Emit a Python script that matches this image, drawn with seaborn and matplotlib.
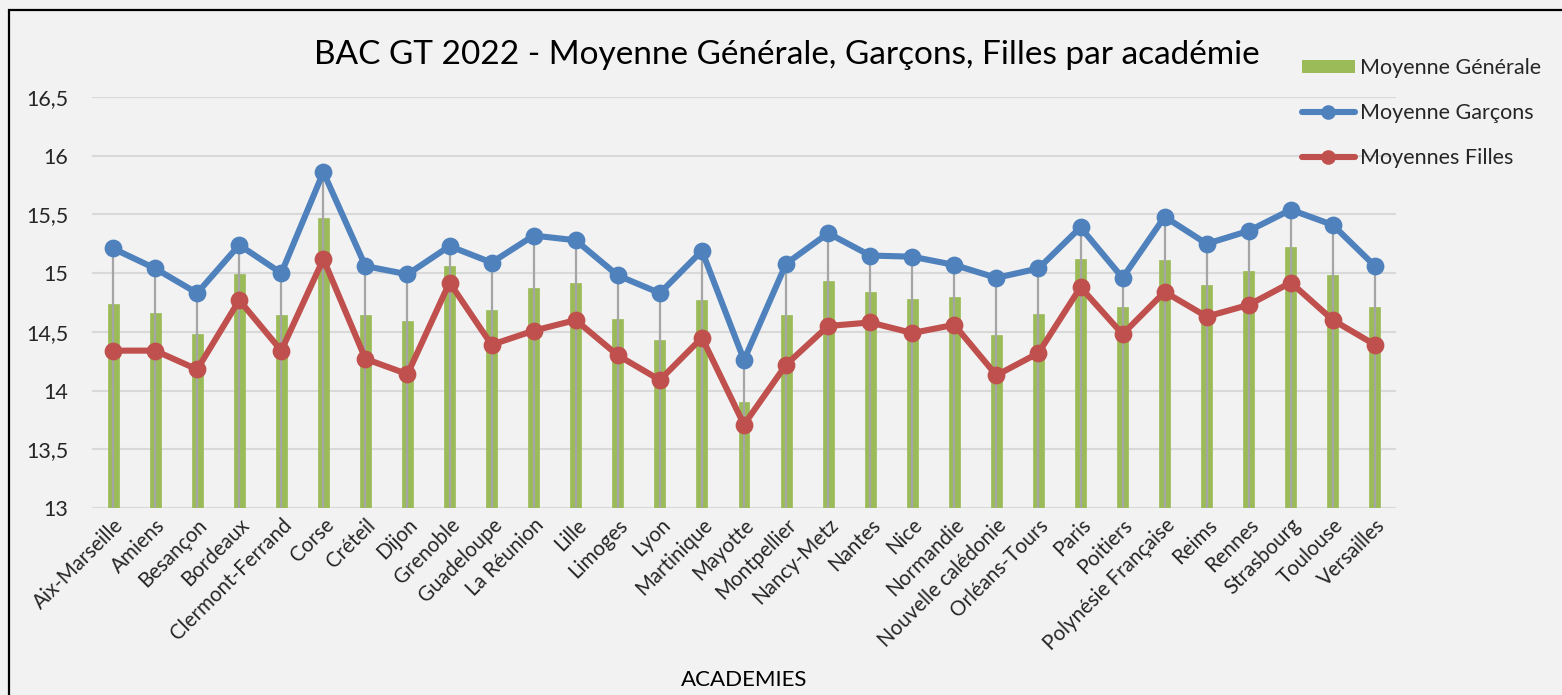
import matplotlib
matplotlib.use("Agg")
import matplotlib.pyplot as plt
import seaborn as sns
import numpy as np
import pandas as pd
from matplotlib.lines import Line2D
from matplotlib.patches import Patch, Rectangle
from matplotlib.ticker import FuncFormatter, MultipleLocator

academies = ["Aix-Marseille", "Amiens", "Besançon", "Bordeaux", "Clermont-Ferrand", "Corse",
             "Créteil", "Dijon", "Grenoble", "Guadeloupe", "La Réunion", "Lille", "Limoges",
             "Lyon", "Martinique", "Mayotte", "Montpellier", "Nancy-Metz", "Nantes", "Nice",
             "Normandie", "Nouvelle calédonie", "Orléans-Tours", "Paris", "Poitiers",
             "Polynésie Française", "Reims", "Rennes", "Strasbourg", "Toulouse", "Versailles"]

moyenne_generale = [14.74, 14.66, 14.48, 14.99, 14.64, 15.47, 14.64, 14.59, 15.06, 14.69,
                    14.87, 14.92, 14.61, 14.43, 14.77, 13.90, 14.64, 14.93, 14.84, 14.78,
                    14.80, 14.47, 14.65, 15.12, 14.71, 15.11, 14.90, 15.02, 15.22, 14.98, 14.71]

moyenne_garcons = [15.21, 15.04, 14.83, 15.24, 15.00, 15.86, 15.06, 14.99, 15.23, 15.09,
                   15.32, 15.28, 14.98, 14.83, 15.19, 14.26, 15.08, 15.34, 15.15, 15.14,
                   15.07, 14.96, 15.04, 15.39, 14.96, 15.48, 15.25, 15.36, 15.54, 15.41, 15.06]

moyenne_filles = [14.34, 14.34, 14.18, 14.77, 14.34, 15.12, 14.27, 14.14, 14.92, 14.39,
                  14.51, 14.60, 14.30, 14.09, 14.45, 13.71, 14.22, 14.55, 14.58, 14.49,
                  14.56, 14.13, 14.32, 14.88, 14.48, 14.84, 14.63, 14.73, 14.92, 14.60, 14.39]

title = "BAC GT 2022 - Moyenne Générale, Garçons, Filles par académie"
labels = ["Moyenne Générale", "Moyenne Garçons", "Moyennes Filles"]

df = pd.DataFrame({"academie": academies, "gen": moyenne_generale,
                   "gar": moyenne_garcons, "fil": moyenne_filles})

sns.set_theme(style="white")
plt.rcParams["font.family"] = ["Lato", "DejaVu Sans"]

BG = "#F2F2F2"
GREEN = "#9BBB59"
BLUE = "#4F81BD"
RED = "#C0504D"
GRID = "#D9D9D9"

fig = plt.figure(figsize=(15.62, 6.95), dpi=100, facecolor=BG)
ax = fig.add_axes([92 / 1562, 1 - 508 / 695, (1396 - 92) / 1562, (508 - 97) / 695])
ax.set_facecolor(BG)

ymin = 13
sns.barplot(data=df, x="academie", y="gen", color=GREEN, width=0.26, ax=ax,
            saturation=1, edgecolor=GREEN, linewidth=0.5, zorder=2)
# drop lines
ax.vlines(np.arange(len(academies)), ymin, df[["gar", "fil"]].max(axis=1),
          color="#A5A5A5", lw=1.6, zorder=3)
sns.pointplot(data=df, x="academie", y="gar", color=BLUE, ax=ax, markers="o",
              markersize=9.5, linewidth=4.4, zorder=4)
sns.pointplot(data=df, x="academie", y="fil", color=RED, ax=ax, markers="o",
              markersize=9.5, linewidth=4.4, zorder=5)

ax.set_ylim(13, 16.5)
ax.set_xlim(-0.5, len(academies) - 0.5)
ax.yaxis.set_major_locator(MultipleLocator(0.5))
ax.yaxis.set_major_formatter(FuncFormatter(lambda v, p: (f"{v:g}").replace(".", ",")))
ax.grid(axis="y", color=GRID, lw=1.5, zorder=0)
ax.set_axisbelow(True)
for s in ax.spines.values():
    s.set_visible(False)
ax.tick_params(axis="both", length=0)
ax.tick_params(axis="y", pad=17, labelsize=15.5)
ax.tick_params(axis="x", pad=5, labelsize=14.8)
plt.setp(ax.get_xticklabels(), rotation=45, ha="right", rotation_mode="anchor")
ax.set_xlabel("")
ax.set_ylabel("")

fig.text(787 / 1562, 1 - 55 / 695, title, ha="center", va="center", fontsize=24, color="#000000")
fig.text(744 / 1562, 1 - 680 / 695, "ACADEMIES", ha="center", va="center", fontsize=16, color="#000000")

handles = [Patch(facecolor=GREEN, edgecolor="none"),
           Line2D([0], [0], color=BLUE, lw=4.4, marker="o", markersize=9.5),
           Line2D([0], [0], color=RED, lw=4.4, marker="o", markersize=9.5)]
leg = fig.legend(handles, labels, loc="upper left", bbox_to_anchor=(1302 / 1562, 1 - 58 / 695),
                 frameon=False, fontsize=15.5, handlelength=2.45, handleheight=0.55,
                 labelspacing=1.17, handletextpad=0.25, borderaxespad=0, borderpad=0)

fig.patches.append(Rectangle((8.5 / 1562, -0.05), 1.2, 1.05 - 10 / 695, transform=fig.transFigure,
                             fill=False, edgecolor="#000000", lw=1.6))

fig.savefig("out.png", dpi=100, facecolor=BG)
